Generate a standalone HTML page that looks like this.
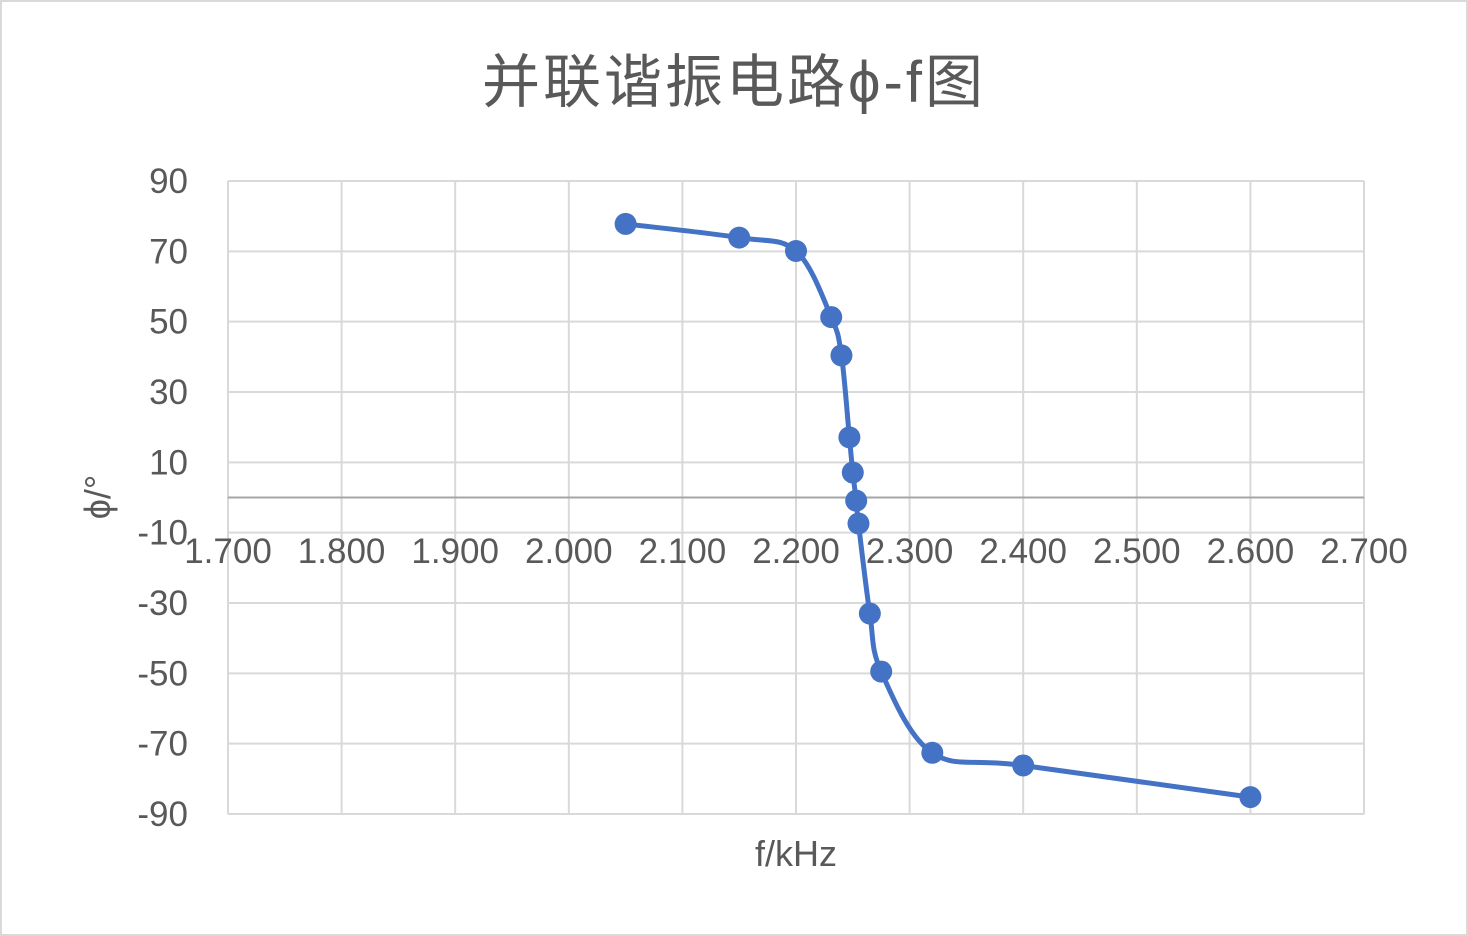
<!DOCTYPE html>
<html><head><meta charset="utf-8"><style>
body{margin:0;background:#fff;}
svg{display:block;font-family:"Liberation Sans","Noto Sans CJK SC",sans-serif;}
</style></head><body>
<svg id="chart" width="1468" height="936">
<rect x="1" y="1" width="1466" height="934" fill="#fff" stroke="#d9d9d9" stroke-width="2"/>
<text x="734" y="102" text-anchor="middle" font-size="58" letter-spacing="3" fill="#595959">并联谐振电路ϕ-f图</text>
<g id="grid"></g><g id="ticks"></g><g id="series"></g>
<text x="796" y="866" text-anchor="middle" font-size="36" fill="#595959">f/kHz</text>
<text transform="translate(110,497) rotate(-90)" text-anchor="middle" font-size="36" fill="#595959">ϕ/°</text>
</svg>
<script>
const xs=[2.05,2.15,2.2,2.231,2.24,2.247,2.25,2.253,2.255,2.265,2.275,2.32,2.40,2.60];
const ys=[77.8,73.9,70.1,51.3,40.4,17.1,7.1,-0.9,-7.4,-33,-49.5,-72.6,-76.2,-85.2];
const xTicks=[1.7,1.8,1.9,2.0,2.1,2.2,2.3,2.4,2.5,2.6,2.7];
const yTicks=[90,70,50,30,10,-10,-30,-50,-70,-90];
const X0=228,X1=1364,Y0=181,Y1=814;
const sx=v=>X0+(v-1.7)/1.0*(X1-X0);
const sy=v=>Y0+(90-v)/180*(Y1-Y0);
const NS="http://www.w3.org/2000/svg";
function mk(t,a,p){const e=document.createElementNS(NS,t);for(const k in a)e.setAttribute(k,a[k]);p.appendChild(e);return e;}
const g=document.getElementById('grid'),tk=document.getElementById('ticks'),s=document.getElementById('series');
yTicks.forEach(v=>{
 const l=mk('line',{x1:X0,x2:X1,y1:sy(v),y2:sy(v),stroke:'#d9d9d9','stroke-width':2},g);
 
 
 const t=mk('text',{x:188,y:sy(v)+12,'text-anchor':'end','font-size':35,fill:'#595959'},tk);t.textContent=v;
 
 
});
xTicks.forEach(v=>{
 const l=mk('line',{x1:sx(v),x2:sx(v),y1:Y0,y2:Y1,stroke:'#d9d9d9','stroke-width':2},g);
 
 
 const t=mk('text',{x:sx(v),y:563,'text-anchor':'middle','font-size':35,fill:'#595959'},tk);t.textContent=v.toFixed(3);
 
 
});
const ax=mk('line',{x1:X0,x2:X1,y1:sy(0),y2:sy(0),stroke:'#a6a6a6','stroke-width':2},g);


const P=xs.map((x,i)=>[sx(x),sy(ys[i])]);
let d=`M${P[0][0]},${P[0][1]}`;
for(let i=0;i<P.length-1;i++){
 const p0=P[Math.max(0,i-1)],p1=P[i],p2=P[i+1],p3=P[Math.min(P.length-1,i+2)];
 const c1=[p1[0]+(p2[0]-p0[0])/6,p1[1]+(p2[1]-p0[1])/6],c2=[p2[0]-(p3[0]-p1[0])/6,p2[1]-(p3[1]-p1[1])/6];
 d+=` C${c1[0]},${c1[1]} ${c2[0]},${c2[1]} ${p2[0]},${p2[1]}`;
}
const path=mk('path',{d:d,fill:'none',stroke:'#4472c4','stroke-width':5},s);


P.forEach(p=>{
 const c=mk('circle',{cx:p[0],cy:p[1],r:11,fill:'#4472c4'},s);
 
 
});
</script>
</body></html>
